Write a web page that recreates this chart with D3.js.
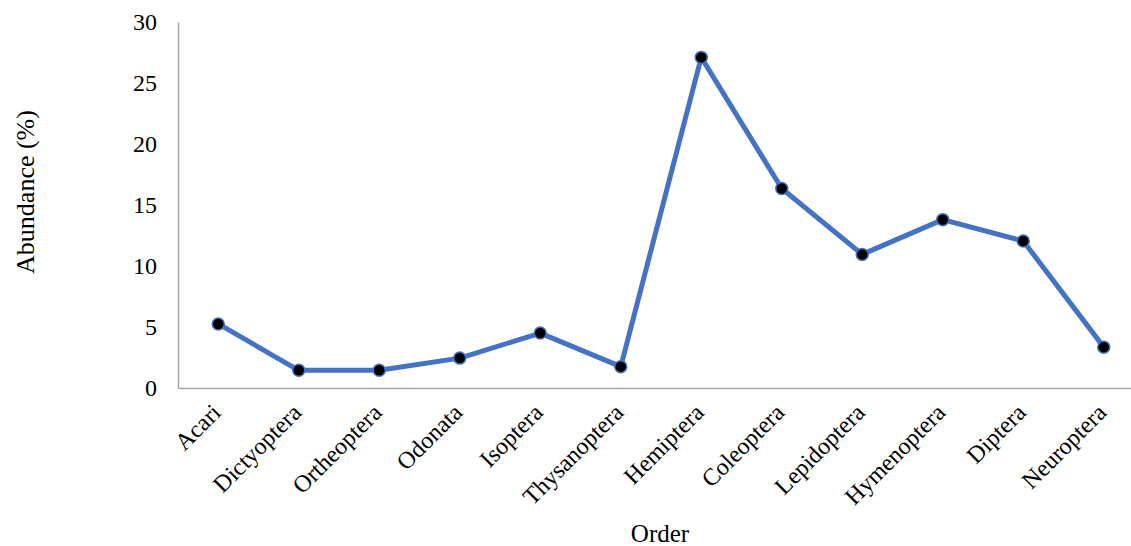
<!DOCTYPE html>
<html>
<head>
<meta charset="utf-8">
<script src="https://cdn.jsdelivr.net/npm/d3@7"></script>
<style>
  body { margin: 0; background: #fff; }
  text { font-family: "Liberation Serif", "Times New Roman", serif; fill: #000; }
</style>
</head>
<body>
<div id="chart"></div>
<script>
// data
const orders = ['Acari', 'Dictyoptera', 'Ortheoptera', 'Odonata', 'Isoptera', 'Thysanoptera',
                'Hemiptera', 'Coleoptera', 'Lepidoptera', 'Hymenoptera', 'Diptera', 'Neuroptera'];
const abundance = [5.25, 1.45, 1.45, 2.45, 4.5, 1.75, 27.1, 16.35, 10.95, 13.8, 12.05, 3.35];
const yTicks = [0, 5, 10, 15, 20, 25, 30];

const width = 1131, height = 546;
const margin = {top: 22, right: -13, bottom: 158, left: 178};

const svg = d3.select('#chart').append('svg')
    .attr('width', width)
    .attr('height', height);

const scaleX = d3.scaleBand(orders, [margin.left, width - margin.right]);
const scaleY = d3.scaleLinear([0, 30], [height - margin.bottom, margin.top]);

// axes
const axisX = svg.append('g')
    .attr('transform', `translate(0,${height - margin.bottom})`)
    .call(d3.axisBottom(scaleX).tickSize(0).tickPadding(0));
axisX.select('.domain').attr('stroke', '#a6a6a6').attr('stroke-width', 1.5);
axisX.selectAll('.tick text')
    .style('font-size', '24px')
    .attr('text-anchor', 'end')
    .attr('dy', 0)
    .attr('transform', 'translate(4,26) rotate(-45)');

const axisY = svg.append('g')
    .attr('transform', `translate(${margin.left},0)`)
    .call(d3.axisLeft(scaleY).tickValues(yTicks).tickSize(0).tickPadding(21));
axisY.select('.domain').attr('stroke', '#a6a6a6').attr('stroke-width', 1.5);
axisY.selectAll('.tick text').style('font-size', '24px');

// line
const pts = orders.map((o, i) => [o, abundance[i]]);
const line = d3.line()
    .x(d => scaleX(d[0]) + scaleX.bandwidth() / 2)
    .y(d => scaleY(d[1]));

svg.append('path')
    .datum(pts)
    .attr('fill', 'none')
    .attr('stroke', '#4472c4')
    .attr('stroke-width', 5)
    .attr('stroke-linejoin', 'round')
    .attr('d', line);

svg.selectAll('circle.pt')
    .data(pts)
    .join('circle')
    .classed('pt', true)
    .attr('cx', d => scaleX(d[0]) + scaleX.bandwidth() / 2)
    .attr('cy', d => scaleY(d[1]))
    .attr('r', 6)
    .attr('fill', '#000')
    .attr('stroke', '#4472c4')
    .attr('stroke-width', 1.5);

// titles
svg.append('text')
    .attr('x', 660).attr('y', 542)
    .attr('text-anchor', 'middle')
    .style('font-size', '25px')
    .text('Order');

svg.append('text')
    .attr('transform', 'translate(34,192) rotate(-90)')
    .attr('text-anchor', 'middle')
    .style('font-size', '26px')
    .text('Abundance (%)');
</script>
</body>
</html>
